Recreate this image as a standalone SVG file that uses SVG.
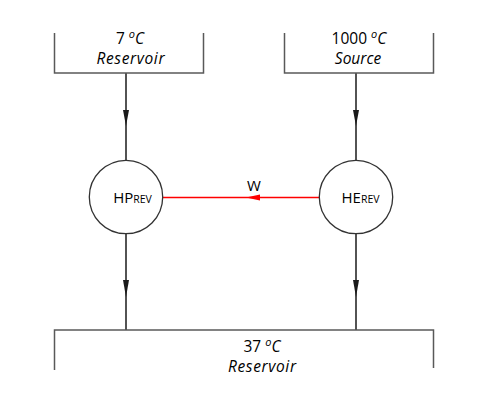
<svg xmlns="http://www.w3.org/2000/svg" width="496" height="419" viewBox="0 0 496 419">
<style>
.box{fill:none;stroke:#595959;stroke-width:1.5}
.conn{stroke:#1a1a1a;stroke-width:1.5;fill:none}
.head{fill:#1a1a1a}
.circ{fill:#fff;stroke:#333;stroke-width:1.3}
.t{font-family:"Open Sans","Liberation Sans",sans-serif;font-size:15px;fill:#000;text-anchor:middle}
.r{font-size:15.5px}
.i{font-style:italic}
.sup{font-size:11px;font-style:italic}
.ci{font-style:italic}
.sub{font-size:10.5px}
</style>
<rect width="496" height="419" fill="#fff"/>
<g id="connectors">
<line class="conn" x1="126" y1="73" x2="126" y2="160"/>
<polygon class="head" points="126,126 123,110 129,110"/>
<line class="conn" x1="356" y1="73" x2="356" y2="160"/>
<polygon class="head" points="356,126 353,110 359,110"/>
<line class="conn" x1="126" y1="234" x2="126" y2="330"/>
<polygon class="head" points="126,297 123,280 129,280"/>
<line class="conn" x1="356" y1="234" x2="356" y2="330"/>
<polygon class="head" points="356,297 353,280 359,280"/>
<g id="work">
<line x1="163" y1="197.5" x2="319" y2="197.5" stroke="#ff0000" stroke-width="1.6"/>
<polygon points="246,197.5 260,194.5 260,200.5" fill="#ff0000"/>
<text class="t" x="254" y="190.5">W</text>
</g>
</g>
<g id="reservoir-cold">
<polyline class="box" points="54.5,33 54.5,73 203.5,73 203.5,33"/>
<text class="t r" x="130" y="44">7 <tspan class="sup" dy="-6">o</tspan><tspan class="ci" dy="6">C</tspan></text>
<text class="t r i" x="130.5" y="64" textLength="68" lengthAdjust="spacing">Reservoir</text>
</g>
<g id="source">
<polyline class="box" points="284.5,33 284.5,73 433.5,73 433.5,33"/>
<text class="t r" x="359" y="44">1000 <tspan class="sup" dy="-6">o</tspan><tspan class="ci" dy="6">C</tspan></text>
<text class="t r i" x="358" y="64">Source</text>
</g>
<g id="reservoir-warm">
<polyline class="box" points="54.5,370 54.5,330 433.5,330 433.5,368"/>
<text class="t r" x="262" y="352">37 <tspan class="sup" dy="-6">o</tspan><tspan class="ci" dy="6">C</tspan></text>
<text class="t r i" x="262" y="372" textLength="68" lengthAdjust="spacing">Reservoir</text>
</g>
<g id="hp">
<circle class="circ" cx="126" cy="197" r="36.7"/>
<text class="t" x="132.5" y="203">HP<tspan class="sub">REV</tspan></text>
</g>
<g id="he">
<circle class="circ" cx="356" cy="197" r="36.7"/>
<text class="t" x="360.5" y="203">HE<tspan class="sub">REV</tspan></text>
</g>
</svg>
